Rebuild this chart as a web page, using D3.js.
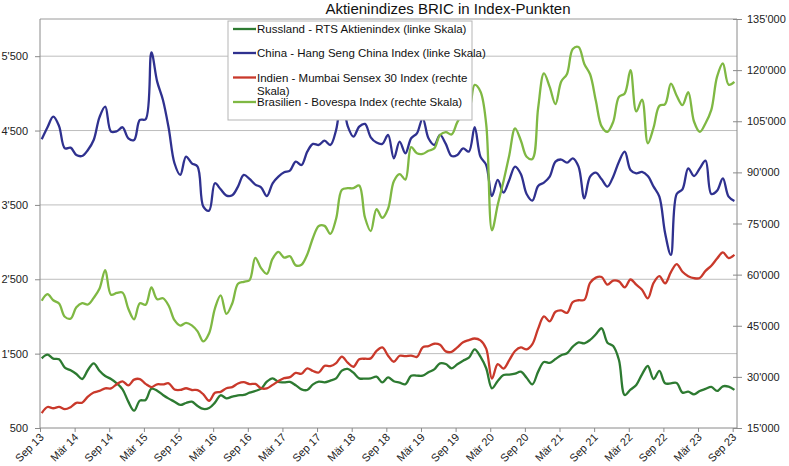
<!DOCTYPE html>
<html>
<head>
<meta charset="utf-8">
<script src="https://cdn.jsdelivr.net/npm/d3@7"></script>
<style>
  html, body { margin: 0; padding: 0; background: #fff; }
  svg { display: block; }
  .tick text { font-family: "Liberation Sans", Arial, sans-serif; font-size: 11px; fill: #222; }
</style>
</head>
<body>
<svg id="chart" width="789" height="466"></svg>
<script>
// ---------- data ----------
const title = "Aktienindizes BRIC in Index-Punkten";
const firstMonth = new Date(2013, 8, 1); // Sep 2013, monthly values to Sep 2023

const xTickLabels = ["Sep 13","Mär 14","Sep 14","Mär 15","Sep 15","Mär 16","Sep 16","Mär 17","Sep 17","Mär 18","Sep 18","Mär 19","Sep 19","Mär 20","Sep 20","Mär 21","Sep 21","Mär 22","Sep 22","Mär 23","Sep 23"];
const leftTicks = [500, 1500, 2500, 3500, 4500, 5500];
const rightTicks = [15000, 30000, 45000, 60000, 75000, 90000, 105000, 120000, 135000];

const seriesNames = [
  "Russland - RTS Aktienindex (linke Skala)",
  "China - Hang Seng China Index (linke Skala)",
  "Indien - Mumbai Sensex 30 Index (rechte Skala)",
  "Brasilien - Bovespa Index (rechte Skala)"
];

const russia = [1437,1486,1433,1424,1312,1276,1226,1159,1280,1370,1271,1199,1159,1101,1020,854,733,868,877,1029,
  1002,944,895,854,810,836,854,796,756,769,841,940,899,922,940,944,975,998,1029,1123,
  1168,1119,1114,1119,1074,1020,1011,1087,1123,1114,1137,1168,1271,1294,1244,1168,1164,1168,1190,1114,
  1180,1128,1110,1088,1204,1204,1204,1249,1289,1370,1361,1303,1357,1406,1446,1558,1460,1303,1034,1133,
  1213,1218,1231,1258,1177,1088,1258,1388,1375,1428,1478,1505,1594,1652,1639,1684,1760,1841,1648,1603,
  1415,944,1016,1079,1222,1334,1159,1267,1101,1101,1106,976,989,953,998,1025,1052,998,1061,1056,1012];

const china = [4382,4544,4687,4560,4261,4270,4172,4158,4239,4373,4678,4822,4485,4490,4544,4396,4373,4642,4651,5550,
  5158,4911,4530,4060,3903,4149,4060,4015,3477,3423,3791,3710,3625,3629,3746,3903,3849,3773,3737,3620,
  3791,3880,3939,3961,4082,4037,4216,4320,4306,4364,4306,4508,4950,4562,4418,4553,4589,4409,4338,4320,
  4441,4127,4351,4194,4396,4463,4665,4396,4306,4441,4320,4158,4172,4261,4216,4544,4149,4037,3620,3836,
  3665,3836,4015,3916,3647,3558,3755,3800,3880,4082,4110,4068,4127,4015,3589,3880,3934,3844,3746,3880,
  4082,4216,3970,3925,3943,3889,3746,3611,3118,2827,3647,3710,3992,3889,3992,4095,3647,3692,3858,3611,3553];

const india = [19380,21165,20792,21171,20514,21120,22386,22418,24217,25414,25895,26638,26631,27866,28694,27499,
  29183,29362,27957,27011,27828,27781,28115,26283,26155,26657,26146,26118,
  24871,23002,25342,25607,26668,26999,28052,28452,27866,27930,26653,26626,
  27656,28743,29621,29918,31146,30922,32515,31730,31284,33213,33149,34057,
  35965,34184,32969,35160,35322,35423,37607,38645,36227,34442,36194,36068,
  36257,35867,38673,39032,39714,39395,37481,37333,38667,40129,40794,41254,
  40723,38297,29468,33718,32424,34916,37607,38628,38068,39614,44150,47751,
  46286,49100,49509,48782,51937,52483,52587,57552,59126,59307,57065,58254,
  58014,56247,58569,57061,55566,53019,57570,59537,57427,60747,63100,60841,
  59550,58962,58992,61112,62622,64719,66528,64831,65828];

const brazil = [52338,54256,52482,51507,
  47638,47094,50415,51627,51239,53168,55829,61288,54116,54629,54724,50007,
  46908,51583,51150,56229,52760,53081,50865,46626,45059,45868,45120,43350,
  40406,42793,50055,53910,48471,51527,57308,57901,58367,64924,61906,60227,
  64670,66662,64984,65403,62711,62900,65920,70835,74294,74308,71970,76402,
  84913,85353,85366,86115,76753,72763,79220,76678,79342,87424,89504,87887,
  97394,95584,95415,96353,97030,100967,101812,101135,104745,107220,108233,115645,
  113761,104172,73020,80506,87403,95056,102912,99369,94603,93952,108893,119017,
  115068,110035,116634,118894,126216,126802,121801,118781,110979,103501,101915,104822,
  112144,113142,119999,107876,111351,98542,103165,109523,110037,116037,112486,109735,
  113532,104932,101882,104432,108335,118087,121943,115742,116565];

// ---------- layout ----------
const W = 789, H = 466;
const plot = { left: 40, right: 737, top: 19, bottom: 428 };
const colors = ["#2d7a31", "#2f318f", "#c9392b", "#7fb843"];
const pointOffset = 0.3; // month-end values sit a little after the month tick

const svg = d3.select("#chart");
const locale = d3.formatLocale({ decimal: ".", thousands: "'", grouping: [3], currency: ["", ""] });
const fmt = locale.format(",d");

const x = d3.scaleLinear().domain([0, 120.75]).range([plot.left, plot.right]);
const yL = d3.scaleLinear().domain([500, 6000]).range([plot.bottom, plot.top]);
const yR = d3.scaleLinear().domain([15000, 135000]).range([plot.bottom, plot.top]);

// gridlines
svg.append("g").selectAll("line").data(leftTicks.filter(d => d > 500)).join("line")
  .attr("x1", plot.left).attr("x2", plot.right)
  .attr("y1", d => yL(d)).attr("y2", d => yL(d))
  .attr("stroke", "#bdbdbd").attr("stroke-width", 1);

// frame top
svg.append("line").attr("x1", plot.left).attr("x2", plot.right)
  .attr("y1", plot.top).attr("y2", plot.top).attr("stroke", "#9a9a9a");

// left axis
const gL = svg.append("g").attr("transform", `translate(${plot.left},0)`)
  .call(d3.axisLeft(yL).tickValues(leftTicks).tickFormat(fmt).tickSize(5).tickPadding(7));
gL.select(".domain").attr("stroke", "#8a8a8a").attr("d", `M0,${plot.top}V${plot.bottom}`);
gL.selectAll(".tick line").attr("stroke", "#8a8a8a");

// right axis
const gR = svg.append("g").attr("transform", `translate(${plot.right},0)`)
  .call(d3.axisRight(yR).tickValues(rightTicks).tickFormat(fmt).tickSize(5).tickPadding(5));
gR.select(".domain").attr("stroke", "#8a8a8a").attr("d", `M0,${plot.top}V${plot.bottom}`);
gR.selectAll(".tick line").attr("stroke", "#8a8a8a").attr("x1", -4);

// bottom axis
const gB = svg.append("g").attr("transform", `translate(0,${plot.bottom})`)
  .call(d3.axisBottom(x).tickValues(d3.range(0, 121, 6)).tickFormat((d, i) => xTickLabels[i]).tickSize(4));
gB.select(".domain").attr("stroke", "#8a8a8a").attr("d", `M${plot.left},0H${plot.right}`);
gB.selectAll(".tick line").attr("stroke", "#8a8a8a");
gB.selectAll(".tick text")
  .attr("text-anchor", "end")
  .attr("y", 0).attr("dy", 0)
  .attr("transform", "translate(4,10) rotate(-45)")
  .style("font-size", "11px");

// series
const seriesDefs = [
  { values: russia, y: yL },
  { values: china, y: yL },
  { values: india, y: yR },
  { values: brazil, y: yR }
];
seriesDefs.forEach((s, k) => {
  const line = d3.line()
    .x((d, i) => x(i + pointOffset))
    .y(d => s.y(d))
    .curve(d3.curveCatmullRom.alpha(0.5));
  svg.append("path").datum(s.values)
    .attr("d", line)
    .attr("fill", "none")
    .attr("stroke", colors[k])
    .attr("stroke-width", 2.3)
    .attr("stroke-linejoin", "round");
});

// title
svg.append("text").attr("x", 448).attr("y", 13.5)
  .attr("text-anchor", "middle")
  .style("font-family", "'Liberation Sans Narrow', 'Arial Narrow', 'Liberation Sans', sans-serif")
  .style("font-size", "15px").style("fill", "#111")
  .text(title);

// legend
const lg = svg.append("g");
lg.append("rect").attr("x", 228).attr("y", 21).attr("width", 244).attr("height", 99)
  .attr("fill", "#fff").attr("stroke", "#b5b5b5");
const legendRows = [
  { lines: [seriesNames[0]], y: 29 },
  { lines: [seriesNames[1]], y: 53 },
  { lines: ["Indien - Mumbai Sensex 30 Index (rechte", "Skala)"], y: 77.5 },
  { lines: [seriesNames[3]], y: 102 }
];
legendRows.forEach((r, k) => {
  lg.append("line").attr("x1", 233).attr("x2", 256).attr("y1", r.y).attr("y2", r.y)
    .attr("stroke", colors[k]).attr("stroke-width", 2.3);
  const t = lg.append("text").attr("x", 257).attr("y", r.y + 4)
    .style("font-family", "'Liberation Sans Narrow', 'Arial Narrow', 'Liberation Sans', sans-serif")
    .style("font-size", "11.5px").style("fill", "#111");
  r.lines.forEach((ln, j) => {
    t.append("tspan").attr("x", 257).attr("dy", j === 0 ? 0 : 13.5).text(ln);
  });
});
</script>
</body>
</html>
